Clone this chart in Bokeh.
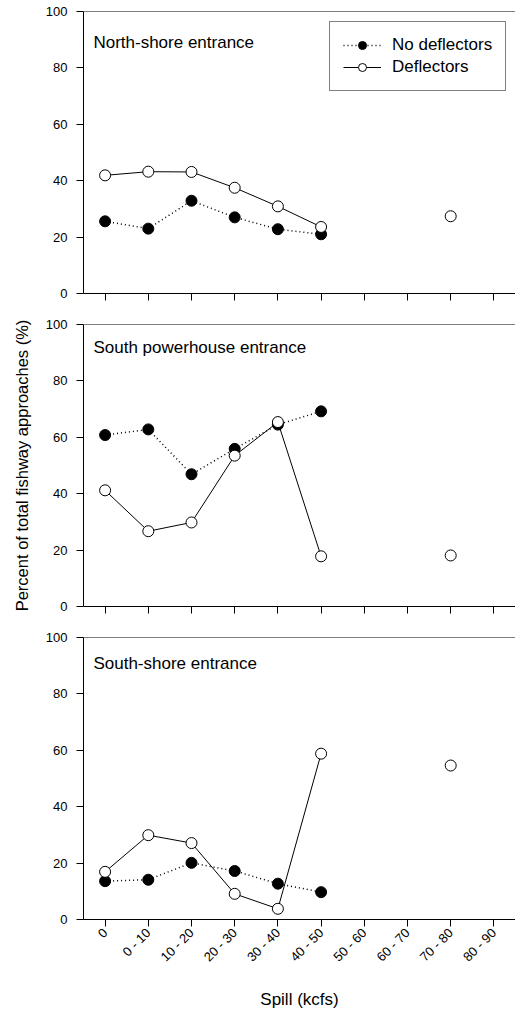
import numpy as np
from math import pi

from bokeh.plotting import figure
from bokeh.layouts import column
from bokeh.models import (FactorRange, Range1d, Span, Label, Legend, LegendItem,
                          CustomLabelingPolicy)
from bokeh.embed import file_html
from bokeh.resources import INLINE

FONT = "Liberation Sans"
nan = np.nan

# spill classes (kcfs)
cats = ["0", "0 - 10", "10 - 20", "20 - 30", "30 - 40", "40 - 50",
        "50 - 60", "60 - 70", "70 - 80", "80 - 90"]
y_ticks = [0, 20, 40, 60, 80, 100]

# percent of total fishway approaches, per entrance
north_no_defl = np.array([25.6, 23.0, 32.9, 27.0, 22.8, 21.0, nan, nan, nan, nan])
north_defl = np.array([41.9, 43.2, 43.1, 37.5, 30.9, 23.6, nan, nan, 27.4, nan])

powerhouse_no_defl = np.array([60.8, 62.8, 46.9, 55.9, 64.5, 69.2, nan, nan, nan, nan])
powerhouse_defl = np.array([41.2, 26.7, 29.8, 53.5, 65.4, 17.8, nan, nan, 18.1, nan])

south_no_defl = np.array([13.6, 14.1, 20.1, 17.2, 12.7, 9.7, nan, nan, nan, nan])
south_defl = np.array([16.9, 29.9, 27.1, 9.1, 3.8, 58.8, nan, nan, 54.6, nan])

panels = [
    ("North-shore entrance", north_no_defl, north_defl, 89.1),
    ("South powerhouse entrance", powerhouse_no_defl, powerhouse_defl, 91.8),
    ("South-shore entrance", south_no_defl, south_defl, 90.9),
]

x_range = FactorRange(factors=cats)

# drop every tick label (upper panels only show the tick marks)
no_labels = CustomLabelingPolicy(code="""
    for (const i of indices) {
        indices.unset(i)
    }
    return indices
""")


def make_panel(title, no_defl, defl, title_y, idx):
    last = idx == 2
    top = 11 if idx == 0 else 9
    bottom = 92 if last else 22
    p = figure(x_range=x_range, y_range=Range1d(0, 100),
               width=515, height=top + 282 + bottom,
               min_border_left=83, min_border_right=0,
               min_border_top=top, min_border_bottom=bottom,
               output_backend="svg", toolbar_location=None)
    p.outline_line_color = None
    p.grid.visible = False
    p.background_fill_color = "white"
    p.border_fill_color = "white"

    # top frame line only (no right border in the original)
    p.add_layout(Span(location=100, dimension="width",
                      line_color="black", line_width=1))

    p.yaxis.ticker = y_ticks
    p.yaxis.minor_tick_line_color = None
    for ax in (p.xaxis, p.yaxis):
        ax.axis_line_color = "black"
        ax.major_tick_line_color = "black"
        ax.major_tick_out = 7
        ax.major_tick_in = 0
        ax.major_label_text_font = FONT
        ax.major_label_text_font_size = "13px"
        ax.major_label_text_color = "black"
        ax.axis_label_text_font = FONT
        ax.axis_label_text_font_size = "17px"
        ax.axis_label_text_font_style = "normal"
        ax.axis_label_text_color = "black"
    p.yaxis.major_label_standoff = 9

    if last:
        p.xaxis.major_label_orientation = pi / 4
        p.xaxis.major_label_standoff = 4
        p.xaxis.axis_label = "Spill (kcfs)"
        p.xaxis.axis_label_standoff = 17
    else:
        p.xaxis.major_label_text_font_size = "1px"
        p.xaxis.major_label_standoff = 0
        p.xaxis.major_label_policy = no_labels

    src = dict(x=cats, no=no_defl, de=defl)
    l1 = p.line(x="x", y="no", source=src, line_color="black",
                line_width=1.5, line_dash="1 3")
    s1 = p.scatter(x="x", y="no", source=src, size=11,
                   fill_color="black", line_color="black")
    l2 = p.line(x="x", y="de", source=src, line_color="black", line_width=1)
    s2 = p.scatter(x="x", y="de", source=src, size=11,
                   fill_color="white", line_color="black", line_width=1)

    p.add_layout(Label(x=0.23, y=title_y, text=title, text_font=FONT,
                       text_font_size="17px", text_color="black",
                       text_baseline="middle"))
    return p, (l1, s1, l2, s2)


figs = []
for i, (title, no_defl, defl, ty) in enumerate(panels):
    p, rends = make_panel(title, no_defl, defl, ty, i)
    if i == 0:
        l1, s1, l2, s2 = rends
        legend = Legend(items=[
            LegendItem(label="No deflectors", renderers=[l1, s1]),
            LegendItem(label="Deflectors", renderers=[l2, s2]),
        ], location=(246, 202))
        legend.label_text_font = FONT
        legend.label_text_font_size = "17px"
        legend.label_text_color = "black"
        legend.glyph_width = 38
        legend.label_standoff = 11
        legend.padding = 13
        legend.spacing = 2
        legend.border_line_color = "black"
        legend.border_line_width = 1
        legend.background_fill_alpha = 1.0
        p.add_layout(legend, "center")
    if i == 1:
        p.yaxis.axis_label = "Percent of total fishway approaches (%)"
        p.yaxis.axis_label_text_font_size = "16.5px"
        p.yaxis.axis_label_standoff = 12
    figs.append(p)

layout = column(*figs, spacing=0)
open("out.html", "w").write(file_html(layout, INLINE))
